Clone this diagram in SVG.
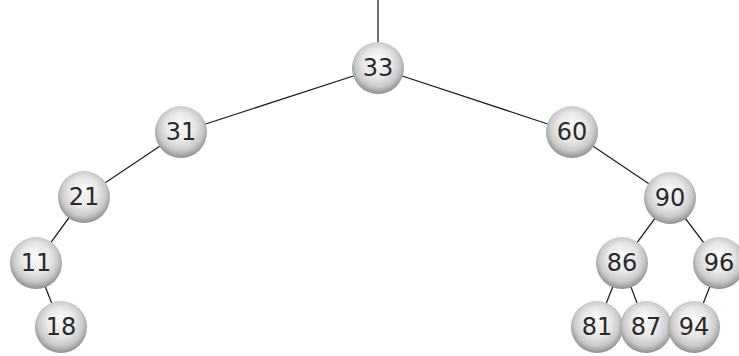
<svg xmlns="http://www.w3.org/2000/svg" width="739" height="356" viewBox="0 0 739 356">
<defs>
<radialGradient id="sph" cx="50%" cy="45%" r="55%" fx="48%" fy="35%">
<stop offset="0" stop-color="#fbfbfb"/>
<stop offset="0.5" stop-color="#e8e8e8"/>
<stop offset="0.78" stop-color="#cacaca"/>
<stop offset="0.93" stop-color="#a2a2a2"/>
<stop offset="1" stop-color="#8e8e8e"/>
</radialGradient>
<style>
.e{stroke:#222;stroke-width:1.3;fill:none}
.n circle{fill:url(#sph)}
.n text{font-family:"DejaVu Sans",Verdana,sans-serif;font-size:24px;fill:#2a2a2a;text-anchor:middle;dominant-baseline:central}
</style>
</defs>
<rect width="739" height="356" fill="#fff"/>
<g id="connectors">
<line class="e" x1="378" y1="0" x2="378" y2="68"/>
<line class="e" x1="378" y1="68" x2="181" y2="132"/>
<line class="e" x1="378" y1="68" x2="572" y2="132"/>
<line class="e" x1="181" y1="132" x2="84" y2="197"/>
<line class="e" x1="84" y1="197" x2="36" y2="263"/>
<line class="e" x1="36" y1="263" x2="61" y2="327"/>
<line class="e" x1="572" y1="132" x2="670" y2="198"/>
<line class="e" x1="670" y1="198" x2="622" y2="263"/>
<line class="e" x1="670" y1="198" x2="719" y2="263"/>
<line class="e" x1="622" y1="263" x2="597" y2="327"/>
<line class="e" x1="622" y1="263" x2="646" y2="327"/>
<line class="e" x1="719" y1="263" x2="694" y2="327"/>
</g>
<g id="n33" class="n"><circle cx="378" cy="68" r="26"/><text x="378" y="68">33</text></g>
<g id="n31" class="n"><circle cx="181" cy="132" r="26"/><text x="181" y="132">31</text></g>
<g id="n60" class="n"><circle cx="572" cy="132" r="26"/><text x="572" y="132">60</text></g>
<g id="n21" class="n"><circle cx="84" cy="197" r="26"/><text x="84" y="197">21</text></g>
<g id="n90" class="n"><circle cx="670" cy="198" r="26"/><text x="670" y="198">90</text></g>
<g id="n11" class="n"><circle cx="36" cy="263" r="26"/><text x="36" y="263">11</text></g>
<g id="n86" class="n"><circle cx="622" cy="263" r="26"/><text x="622" y="263">86</text></g>
<g id="n96" class="n"><circle cx="719" cy="263" r="26"/><text x="719" y="263">96</text></g>
<g id="n18" class="n"><circle cx="61" cy="327" r="26"/><text x="61" y="327">18</text></g>
<g id="n81" class="n"><circle cx="597" cy="327" r="26"/><text x="597" y="327">81</text></g>
<g id="n87" class="n"><circle cx="646" cy="327" r="26"/><text x="646" y="327">87</text></g>
<g id="n94" class="n"><circle cx="694" cy="327" r="26"/><text x="694" y="327">94</text></g>
</svg>
